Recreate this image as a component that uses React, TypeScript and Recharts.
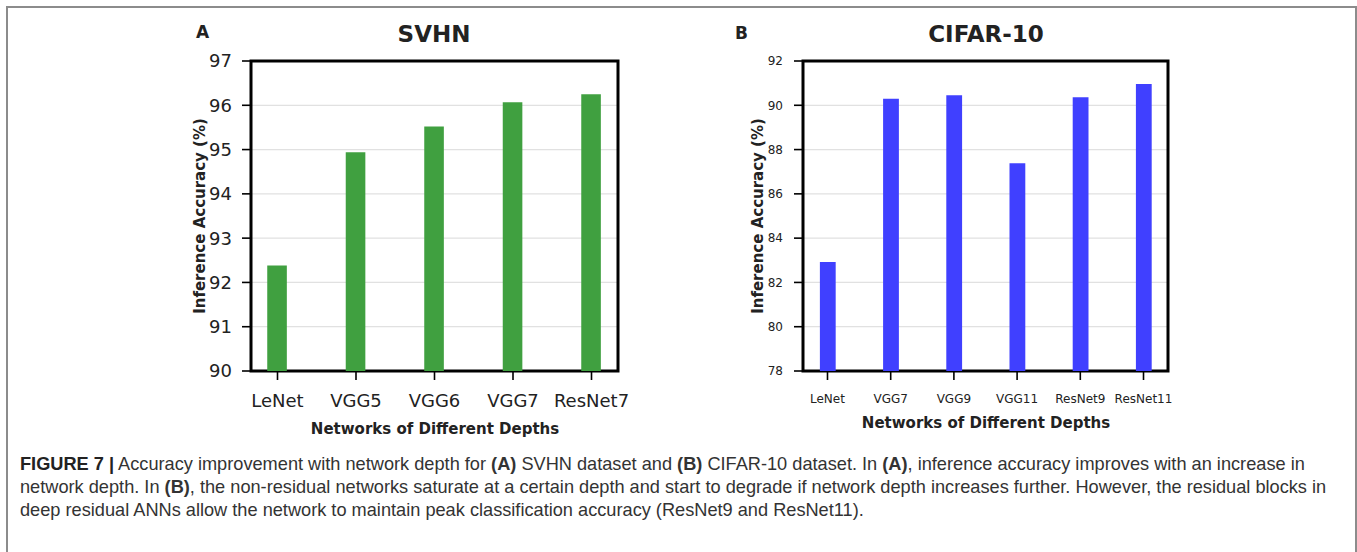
import React from "react";
import { BarChart, Bar, XAxis, YAxis, CartesianGrid, ReferenceArea } from "recharts";

// ---- Data ----
const networksA = ["LeNet", "VGG5", "VGG6", "VGG7", "ResNet7"];
const accuracyA = [92.38, 94.94, 95.52, 96.07, 96.25];
const yTicksA = [90, 91, 92, 93, 94, 95, 96, 97];

const networksB = ["LeNet", "VGG7", "VGG9", "VGG11", "ResNet9", "ResNet11"];
const accuracyB = [82.92, 90.3, 90.45, 87.38, 90.36, 90.96];
const yTicksB = [78, 80, 82, 84, 86, 88, 90, 92];

const dataA = networksA.map((name, i) => ({ idx: i, name, value: accuracyA[i] }));
const dataB = networksB.map((name, i) => ({ idx: i, name, value: accuracyB[i] }));

const FONT = "'DejaVu Sans', sans-serif";
const TXT = "#222";

function Panel(props: {
  data: { idx: number; name: string; value: number }[];
  names: string[];
  yTicks: number[];
  color: string;
  width: number;
  height: number;
  margin: { top: number; right: number; bottom: number; left: number };
  xDomain: [number, number];
  barSize: number;
  tickFont: number;
  yTickMargin: number;
  xTickMargin: number;
}) {
  const { data, names, yTicks, color, width, height, margin, xDomain, barSize, tickFont } = props;
  const yMin = yTicks[0];
  const yMax = yTicks[yTicks.length - 1];
  return (
    <BarChart width={width} height={height} data={data} margin={margin}>
      <XAxis
        type="number"
        dataKey="idx"
        domain={xDomain}
        ticks={data.map((d) => d.idx)}
        tickFormatter={(v: number) => names[v]}
        allowDataOverflow
        axisLine={false}
        tickLine={{ stroke: "#000", strokeWidth: 1.6 }}
        tickSize={9}
        tickMargin={props.xTickMargin}
        height={40}
        interval={0}
        tick={{ fill: TXT, fontSize: tickFont, fontFamily: FONT }}
      />
      <YAxis
        type="number"
        domain={[yMin, yMax]}
        ticks={yTicks}
        allowDataOverflow
        axisLine={false}
        tickLine={{ stroke: "#000", strokeWidth: 1.6 }}
        tickSize={9}
        tickMargin={props.yTickMargin}
        width={60}
        interval={0}
        tick={{ fill: TXT, fontSize: tickFont, fontFamily: FONT }}
      />
      <Bar dataKey="value" fill={color} barSize={barSize} isAnimationActive={false} />
      <CartesianGrid vertical={false} stroke="#bdbdbd" strokeOpacity={0.45} strokeWidth={1.2} />
      <ReferenceArea
        x1={xDomain[0]}
        x2={xDomain[1]}
        y1={yMin}
        y2={yMax}
        fill="none"
        fillOpacity={0}
        stroke="#000"
        strokeWidth={3}
        ifOverflow="visible"
      />
    </BarChart>
  );
}

const abs = (s: React.CSSProperties): React.CSSProperties => ({ position: "absolute", ...s });

export default function App() {
  return (
    <div style={{ position: "relative", width: 1357, height: 552, overflow: "hidden", background: "#fff" }}>
      <style>{`body{margin:0;}`}</style>
      <div style={abs({ left: 6, top: 6, width: 1347, height: 560, border: "2px solid #8c8c8c" })} />

      {/* Panel A */}
      <div style={abs({ left: 0, top: 0 })}>
        <Panel
          data={dataA}
          names={networksA}
          yTicks={yTicksA}
          color="#40a040"
          width={660}
          height={450}
          margin={{ top: 61, right: 42, bottom: 39, left: 191 }}
          xDomain={[-0.3375, 4.3375]}
          barSize={19.6}
          tickFont={18}
          yTickMargin={10}
          xTickMargin={14}
        />
      </div>
      <div style={abs({ left: 196, top: 20, fontFamily: FONT, fontWeight: "bold", fontSize: 17, color: TXT, lineHeight: "24px" })}>A</div>
      <div style={abs({ left: 434, top: 34, transform: "translate(-50%,-50%)", fontFamily: FONT, fontWeight: "bold", fontSize: 23, color: TXT, whiteSpace: "nowrap" })}>SVHN</div>
      <div style={abs({ left: 200, top: 216, transform: "translate(-50%,-50%) rotate(-90deg)", fontFamily: FONT, fontWeight: "bold", fontSize: 15, color: TXT, whiteSpace: "nowrap" })}>Inference Accuracy (%)</div>
      <div style={abs({ left: 435, top: 429, transform: "translate(-50%,-50%)", fontFamily: FONT, fontWeight: "bold", fontSize: 15, color: TXT, whiteSpace: "nowrap" })}>Networks of Different Depths</div>

      {/* Panel B */}
      <div style={abs({ left: 680, top: 0 })}>
        <Panel
          data={dataB}
          names={networksB}
          yTicks={yTicksB}
          color="#4040ff"
          width={520}
          height={450}
          margin={{ top: 61, right: 32, bottom: 39, left: 63 }}
          xDomain={[-0.3875, 5.3875]}
          barSize={15.8}
          tickFont={12}
          yTickMargin={11}
          xTickMargin={14}
        />
      </div>
      <div style={abs({ left: 735, top: 21, fontFamily: FONT, fontWeight: "bold", fontSize: 17, color: TXT, lineHeight: "24px" })}>B</div>
      <div style={abs({ left: 986, top: 34, transform: "translate(-50%,-50%)", fontFamily: FONT, fontWeight: "bold", fontSize: 23, color: TXT, whiteSpace: "nowrap" })}>CIFAR-10</div>
      <div style={abs({ left: 758, top: 216, transform: "translate(-50%,-50%) rotate(-90deg)", fontFamily: FONT, fontWeight: "bold", fontSize: 15, color: TXT, whiteSpace: "nowrap" })}>Inference Accuracy (%)</div>
      <div style={abs({ left: 986, top: 423, transform: "translate(-50%,-50%)", fontFamily: FONT, fontWeight: "bold", fontSize: 15, color: TXT, whiteSpace: "nowrap" })}>Networks of Different Depths</div>

      {/* Caption */}
      <div style={abs({ left: 20, top: 453, fontFamily: "'Liberation Sans', Arial, sans-serif", fontSize: 18.2, lineHeight: "23px", color: "#333", whiteSpace: "nowrap" })}>
        <div><b style={{ color: "#222" }}>FIGURE 7 |</b> Accuracy improvement with network depth for <b>(A)</b> SVHN dataset and <b>(B)</b> CIFAR-10 dataset. In <b>(A)</b>, inference accuracy improves with an increase in</div>
        <div>network depth. In <b>(B)</b>, the non-residual networks saturate at a certain depth and start to degrade if network depth increases further. However, the residual blocks in</div>
        <div>deep residual ANNs allow the network to maintain peak classification accuracy (ResNet9 and ResNet11).</div>
      </div>
    </div>
  );
}
